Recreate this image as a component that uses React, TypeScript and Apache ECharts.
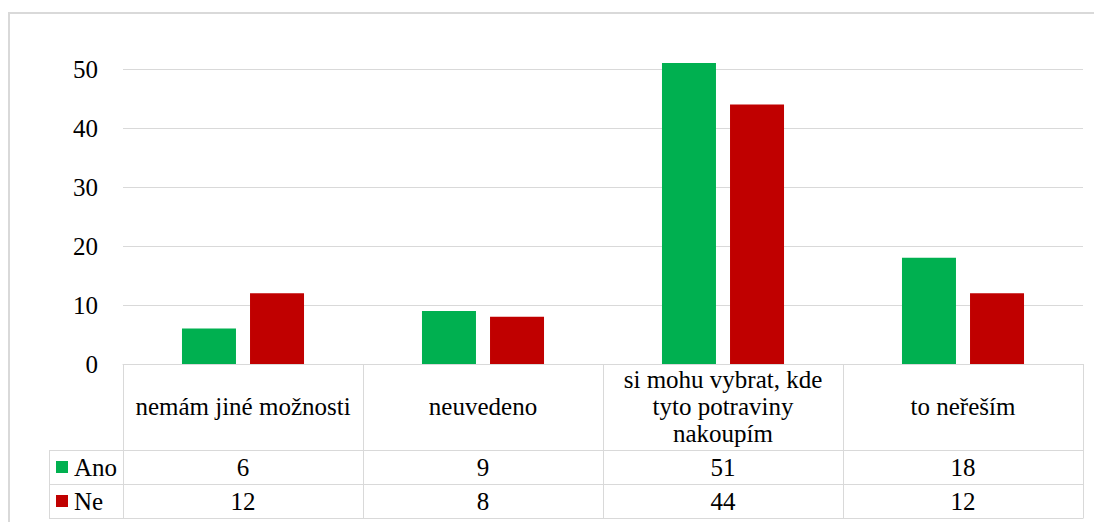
import React, { useEffect, useRef } from "react";
import * as echarts from "echarts";

// Survey answers and their counts per group
const categories = [
  "nemám jiné možnosti",
  "neuvedeno",
  "si mohu vybrat, kde tyto potraviny nakoupím",
  "to neřeším",
];
const seriesNames = ["Ano", "Ne"];
const anoValues = [6, 9, 51, 18];
const neValues = [12, 8, 44, 12];
const seriesColors = ["#00B050", "#C00000"];

const FONT = "Tinos";
const FONT_SIZE = 25;
const GRID_LEFT = 123;
const GRID_RIGHT = 11;
const GRID_TOP = 39.5;
const GRID_HEIGHT = 324.5;
const LINE = "#D9D9D9";
const MAX_LINE_CHARS = 20;

// Greedy word wrap for the category cells of the table header
function wrapLabel(text: string): string {
  const lines: string[] = [];
  let cur = "";
  for (const word of text.split(" ")) {
    const next = cur ? cur + " " + word : word;
    if (next.length > MAX_LINE_CHARS && cur) {
      lines.push(cur);
      cur = word;
    } else {
      cur = next;
    }
  }
  if (cur) lines.push(cur);
  return lines.join("\n");
}

export default function App() {
  const ref = useRef<HTMLDivElement>(null);

  useEffect(() => {
    if (!ref.current) return;
    const chart = echarts.init(ref.current, undefined, { renderer: "svg" });
    const values = [anoValues, neValues];

    chart.setOption({
      animation: false,
      backgroundColor: "#fff",
      grid: {
        left: GRID_LEFT,
        right: GRID_RIGHT,
        top: GRID_TOP,
        height: GRID_HEIGHT,
        containLabel: false,
      },
      xAxis: {
        type: "category",
        data: categories,
        axisLine: { show: true, lineStyle: { color: LINE, width: 1 } },
        axisTick: { show: false },
        axisLabel: {
          interval: 0,
          margin: 42,
          verticalAlign: "middle",
          lineHeight: 27,
          fontFamily: FONT,
          fontSize: FONT_SIZE,
          color: "#000",
          formatter: (v: string) => wrapLabel(v),
        },
      },
      yAxis: {
        type: "value",
        min: 0,
        max: 55,
        interval: 10,
        axisLine: { show: false },
        axisTick: { show: false },
        splitLine: {
          show: true,
          showMinLine: false,
          showMaxLine: false,
          lineStyle: { color: LINE, width: 1 },
        },
        axisLabel: {
          margin: 25,
          fontFamily: FONT,
          fontSize: FONT_SIZE,
          color: "#000",
          formatter: (v: number) => (v % 10 === 0 ? String(v) : ""),
          showMaxLabel: false,
        },
      },
      series: seriesNames.map((name, i) => ({
        name,
        type: "bar",
        data: values[i],
        barWidth: 54,
        barGap: "26%",
        itemStyle: { color: seriesColors[i] },
      })),
    });

    // Data table under the plot: legend keys, values per category, borders
    const zeroY = chart.convertToPixel({ yAxisIndex: 0 }, 0) as number;
    const headerBottom = 450;
    const rowH = 34;
    const legendLeft = 49;
    const plotLeft = GRID_LEFT;
    const plotRight = 1094 - GRID_RIGHT;
    const colW = (plotRight - plotLeft) / categories.length;

    const elements: any[] = [];
    const line = (x1: number, y1: number, x2: number, y2: number) => ({
      type: "line",
      silent: true,
      shape: { x1, y1, x2, y2 },
      style: { stroke: LINE, lineWidth: 1 },
    });

    // vertical borders
    for (let c = 0; c <= categories.length; c++) {
      const x = Math.round(plotLeft + c * colW) + 0.5;
      elements.push(line(x, zeroY, x, headerBottom + rowH * 2));
    }
    elements.push(line(legendLeft + 0.5, headerBottom, legendLeft + 0.5, headerBottom + rowH * 2));
    // horizontal borders
    for (let r = 0; r <= 2; r++) {
      const y = headerBottom + r * rowH + 0.5;
      elements.push(line(legendLeft, y, plotRight + 0.5, y));
    }

    seriesNames.forEach((name, r) => {
      const cy = headerBottom + r * rowH + rowH / 2;
      elements.push({
        type: "rect",
        silent: true,
        shape: { x: 56, y: cy - 6, width: 12, height: 12 },
        style: { fill: seriesColors[r] },
      });
      elements.push({
        type: "text",
        x: 74,
        y: cy,
        style: {
          text: name,
          fontFamily: FONT,
          fontSize: FONT_SIZE,
          fill: "#000",
          verticalAlign: "middle",
          align: "left",
        },
      });
      values[r].forEach((v, c) => {
        const cx = chart.convertToPixel({ xAxisIndex: 0 }, categories[c]) as number;
        elements.push({
          type: "text",
          x: cx,
          y: cy,
          style: {
            text: String(v),
            fontFamily: FONT,
            fontSize: FONT_SIZE,
            fill: "#000",
            align: "center",
            verticalAlign: "middle",
          },
        });
      });
    });

    // chart frame
    elements.push({
      type: "rect",
      silent: true,
      shape: { x: 9, y: 13, width: 1200, height: 600 },
      style: { fill: "none", stroke: LINE, lineWidth: 2 },
    });

    chart.setOption({ graphic: { elements } });

    return () => chart.dispose();
  }, []);

  return (
    <div
      ref={ref}
      style={{ position: "absolute", left: 0, top: 0, width: 1094, height: 522 }}
    />
  );
}
